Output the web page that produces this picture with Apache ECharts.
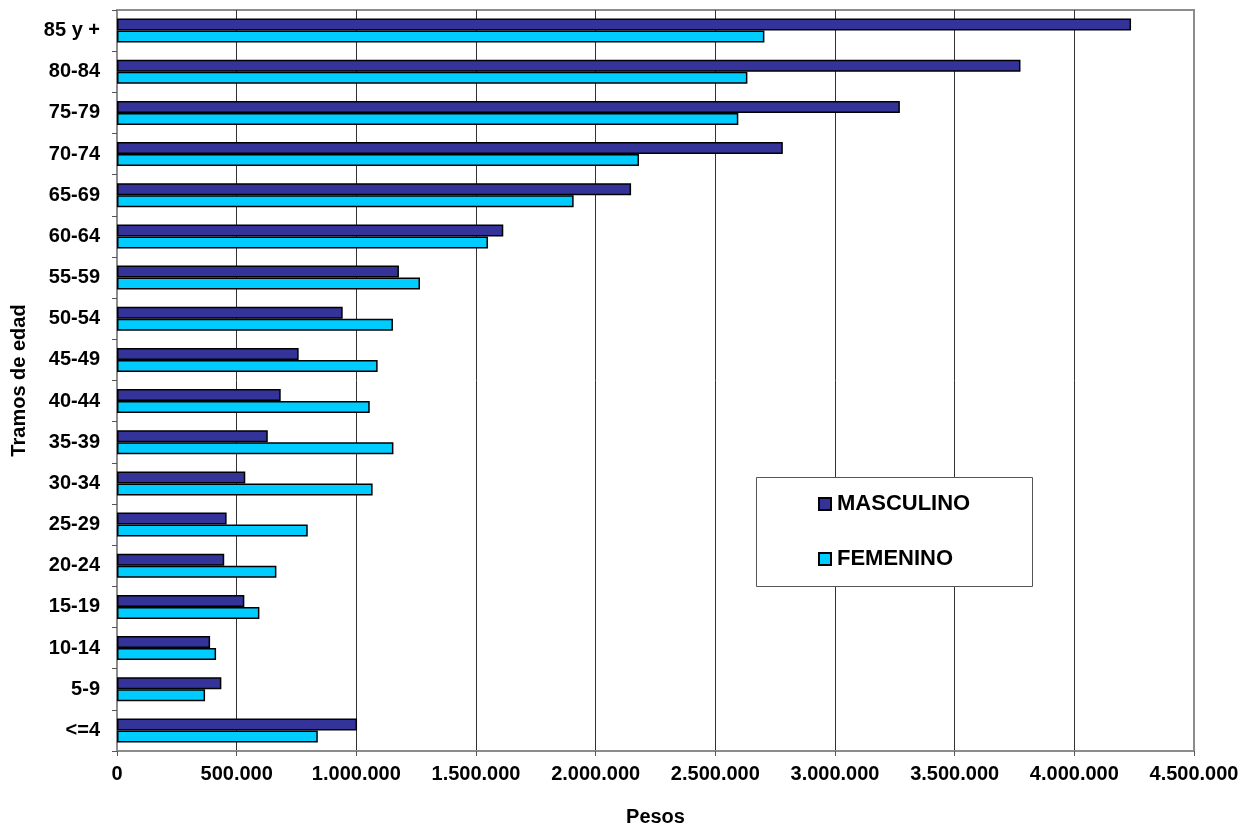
<!DOCTYPE html>
<html>
<head>
<meta charset="utf-8">
<script src="https://cdn.jsdelivr.net/npm/echarts@6/dist/echarts.min.js"></script>
<style>
  html, body { margin: 0; padding: 0; background: #fff; }
  #chart { width: 1250px; height: 825px; }
</style>
</head>
<body>
<div id="chart"></div>
<script>
// Age brackets, bottom to top
const tramos = ['<=4', '5-9', '10-14', '15-19', '20-24', '25-29', '30-34', '35-39', '40-44',
  '45-49', '50-54', '55-59', '60-64', '65-69', '70-74', '75-79', '80-84', '85 y +'];

// Amounts in pesos per bracket
const masculino = [1003000, 436000, 389000, 532000, 448000, 458000, 536000, 630000, 684000,
  759000, 943000, 1178000, 1614000, 2148000, 2782000, 3271000, 3775000, 4237000];
const femenino = [839000, 368000, 414000, 595000, 666000, 797000, 1068000, 1155000, 1056000,
  1089000, 1153000, 1266000, 1550000, 1908000, 2181000, 2596000, 2634000, 2705000];

const xMin = 0, xMax = 4500000, xStep = 500000;

const FONT = '"Liberation Sans", Arial, sans-serif';

function miles(v) {
  return String(Math.round(v)).replace(/\B(?=(\d{3})+(?!\d))/g, '.');
}

const chart = echarts.init(document.getElementById('chart'), null, { renderer: 'canvas' });

chart.setOption({
  animation: false,
  backgroundColor: '#fff',
  textStyle: { fontFamily: FONT },
  grid: {
    left: 117, right: 56, top: 10, bottom: 74,
    outerBoundsMode: 'none',
    containLabel: false,
    show: true, borderColor: '#8c8c8c', borderWidth: 2, backgroundColor: 'transparent'
  },
  graphic: [{
    type: 'rect', z: 50,
    shape: { x: 756.5, y: 477.5, width: 276, height: 109 },
    style: { fill: '#fff', stroke: '#555', lineWidth: 1 }
  }],
  legend: {
    z: 60,
    orient: 'vertical',
    left: 818, top: 493,
    padding: 0,
    itemWidth: 12, itemHeight: 12, itemGap: 33,
    icon: 'rect',
    data: ['MASCULINO', 'FEMENINO'],
    textStyle: { fontFamily: FONT, fontSize: 22, fontWeight: 'bold', color: '#000', padding: [0, 0, 0, 1] }
  },
  xAxis: {
    type: 'value',
    min: xMin, max: xMax, interval: xStep,
    name: 'Pesos', nameLocation: 'middle', nameGap: 56,
    nameTextStyle: { fontFamily: FONT, fontSize: 20, fontWeight: 'bold', color: '#000' },
    axisLine: { show: true, lineStyle: { color: '#8c8c8c', width: 2 } },
    axisTick: { show: true, length: 5, lineStyle: { color: '#555', width: 1 } },
    axisLabel: {
      margin: 13, fontFamily: FONT, fontSize: 20, fontWeight: 'bold', color: '#000',
      formatter: miles
    },
    splitLine: { show: true, showMinLine: false, showMaxLine: false, lineStyle: { color: '#333', width: 1 } }
  },
  yAxis: {
    type: 'category',
    data: tramos,
    name: 'Tramos de edad', nameLocation: 'middle', nameGap: 88,
    nameTextStyle: { fontFamily: FONT, fontSize: 20, fontWeight: 'bold', color: '#000' },
    axisLine: { show: true, lineStyle: { color: '#8c8c8c', width: 2 } },
    axisTick: { show: true, length: 5, inside: false, lineStyle: { color: '#555', width: 1 } },
    axisLabel: { margin: 17, fontFamily: FONT, fontSize: 20, fontWeight: 'bold', color: '#000' },
    splitLine: { show: false }
  },
  series: [
    {
      name: 'MASCULINO', type: 'bar', data: masculino,
      barWidth: 12, barGap: '0%',
      itemStyle: { color: '#333399', borderColor: '#000', borderWidth: 1.5 }
    },
    {
      name: 'FEMENINO', type: 'bar', data: femenino,
      barWidth: 12, barGap: '0%',
      itemStyle: { color: '#00ccff', borderColor: '#000', borderWidth: 1.5 }
    }
  ]
});
</script>
</body>
</html>
